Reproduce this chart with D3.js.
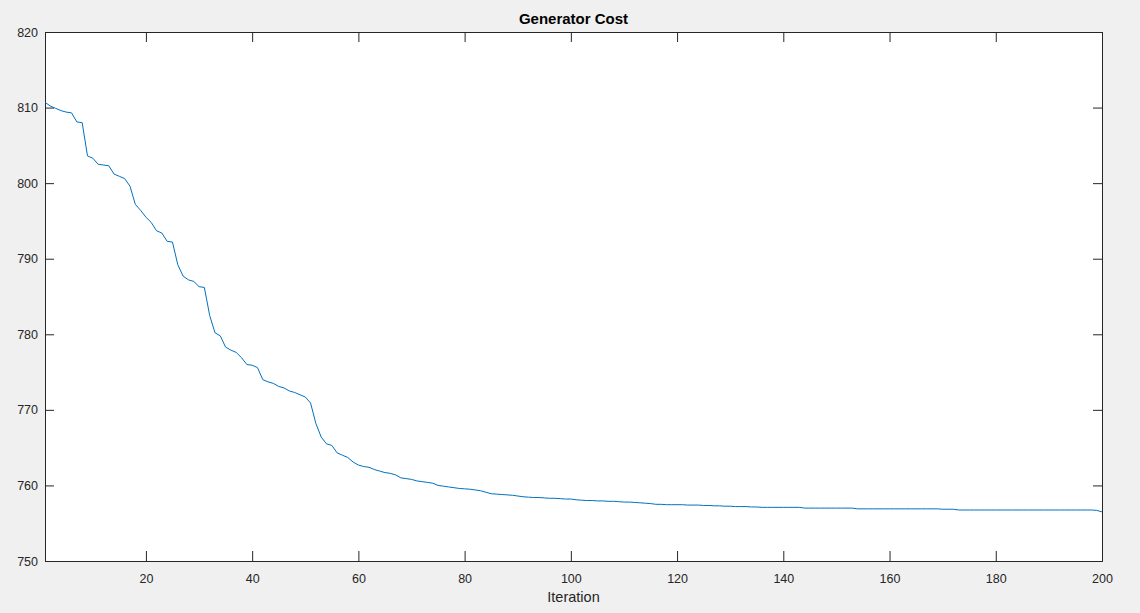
<!DOCTYPE html>
<html><head><meta charset="utf-8">
<script src="https://cdn.jsdelivr.net/npm/d3@7"></script>
<style>
html,body{margin:0;padding:0;background:#f0f0f0;}
svg{display:block;}
text{font-family:"Liberation Sans",Arial,sans-serif;}
</style></head>
<body>
<svg id="chart" width="1140" height="613"></svg>
<script>
const title = "Generator Cost";
const xLabel = "Iteration";
const xTicks = [20,40,60,80,100,120,140,160,180,200];
const yTicks = [750,760,770,780,790,800,810,820];
const cost = [
810.7,810.2,809.9,809.6,809.4,809.3,808.1,808.0,803.6,803.3,
802.5,802.4,802.3,801.2,800.9,800.6,799.6,797.2,796.4,795.5,
794.8,793.7,793.4,792.3,792.2,789.2,787.7,787.2,787.0,786.3,
786.2,782.5,780.2,779.8,778.3,777.9,777.6,776.9,776.0,775.9,
775.6,774.0,773.7,773.5,773.1,772.9,772.5,772.3,772.0,771.7,
770.9,768.2,766.4,765.5,765.3,764.3,764.0,763.7,763.1,762.7,
762.5,762.4,762.1,761.9,761.7,761.6,761.4,761.0,760.9,760.8,
760.6,760.5,760.4,760.3,760.0,759.9,759.8,759.7,759.6,759.55,
759.5,759.4,759.3,759.1,758.9,758.85,758.8,758.75,758.7,758.6,
758.5,758.45,758.4,758.4,758.35,758.3,758.3,758.25,758.2,758.2,
758.1,758.05,758.0,758.0,757.95,757.95,757.9,757.9,757.85,757.8,
757.8,757.75,757.7,757.65,757.6,757.5,757.5,757.45,757.45,757.45,
757.45,757.4,757.4,757.4,757.35,757.35,757.3,757.3,757.25,757.25,
757.2,757.2,757.2,757.15,757.15,757.1,757.1,757.1,757.1,757.1,
757.1,757.1,757.1,757.0,757.0,757.0,757.0,757.0,757.0,757.0,
757.0,757.0,757.0,756.9,756.9,756.9,756.9,756.9,756.9,756.9,
756.9,756.9,756.9,756.9,756.9,756.9,756.9,756.9,756.9,756.85,
756.85,756.85,756.75,756.75,756.75,756.75,756.75,756.75,756.75,756.75,
756.75,756.75,756.75,756.75,756.75,756.75,756.75,756.75,756.75,756.75,
756.75,756.75,756.75,756.75,756.75,756.75,756.75,756.75,756.7,756.5
];
const iters = cost.map((d,i)=>i+1);

const svg = d3.select("#chart");
const L=45, R=1102, T=32, B=561;
const x = d3.scaleLinear().domain([1,200]).range([L,R]);
const y = d3.scaleLinear().domain([750,820]).range([B,T]);

svg.append("rect").attr("x",L).attr("y",T).attr("width",R-L).attr("height",B-T).attr("fill","#fff");

const axCol="#262626";
const gx = svg.append("g").attr("transform",`translate(0,${B})`)
  .call(d3.axisBottom(x).tickValues(xTicks).tickSize(-10).tickPadding(13).tickFormat(d3.format("d")));
const gxt = svg.append("g").attr("transform",`translate(0,${T})`)
  .call(d3.axisTop(x).tickValues(xTicks).tickSize(-10).tickFormat(""));
const gy = svg.append("g").attr("transform",`translate(${L},0)`)
  .call(d3.axisLeft(y).tickValues(yTicks).tickSize(-9).tickPadding(7).tickFormat(d3.format("d")));
const gyr = svg.append("g").attr("transform",`translate(${R},0)`)
  .call(d3.axisRight(y).tickValues(yTicks).tickSize(-9).tickFormat(""));
[gx,gxt,gy,gyr].forEach(g=>{
  g.select(".domain").attr("stroke",axCol).attr("stroke-width",1);
  g.selectAll(".tick line").attr("stroke",axCol);
  g.selectAll(".tick text").attr("fill",axCol).style("font-size","12.5px").style("font-family","'Liberation Sans',Arial,sans-serif");
});

svg.append("path").datum(iters)
  .attr("fill","none").attr("stroke","#0072BD").attr("stroke-width",1)
  .attr("d", d3.line().x(d=>x(d)).y((d,i)=>y(cost[i])));

svg.append("text").attr("x",(L+R)/2).attr("y",24).attr("text-anchor","middle")
  .style("font-size","15px").style("font-weight","bold").attr("fill","#000").text(title);
svg.append("text").attr("x",(L+R)/2).attr("y",602).attr("text-anchor","middle")
  .style("font-size","14.5px").attr("fill",axCol).text(xLabel);
</script>
</body></html>
